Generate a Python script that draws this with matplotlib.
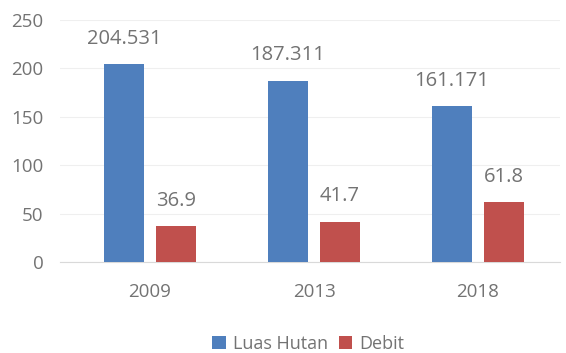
import matplotlib
matplotlib.use("Agg")
import matplotlib.pyplot as plt
import numpy as np

years = ["2009", "2013", "2018"]
luas_hutan = [204.531, 187.311, 161.171]
debit = [36.9, 41.7, 61.8]
luas_labels = ["204.531", "187.311", "161.171"]
debit_labels = ["36.9", "41.7", "61.8"]
yticks = [0, 50, 100, 150, 200, 250]

plt.rcParams['font.family'] = ['Open Sans', 'DejaVu Sans']
gray = "#737373"

fig = plt.figure(figsize=(5.66, 3.53), dpi=100)
ax = fig.add_axes([60/566, 91/353, 500/566, 242/353])

x = np.arange(len(years))
w = 0.245
off = 0.158
b1 = ax.bar(x - off, luas_hutan, w, color="#4F7FBD", label="Luas Hutan", zorder=3)
b2 = ax.bar(x + off, debit, w, color="#C0504D", label="Debit", zorder=3)

for rect, lab in zip(b1, luas_labels):
    ax.annotate(lab, (rect.get_x() + rect.get_width()/2, rect.get_height()),
                xytext=(0, 11), textcoords="offset points", ha="center", va="bottom",
                fontsize=14.5, color=gray)
for rect, lab in zip(b2, debit_labels):
    ax.annotate(lab, (rect.get_x() + rect.get_width()/2, rect.get_height()),
                xytext=(0, 11), textcoords="offset points", ha="center", va="bottom",
                fontsize=14.5, color=gray)

ax.set_xlim(-0.5 - 8/164, 2.5)
ax.set_ylim(0, 250)
ax.set_yticks(yticks)
ax.set_xticks(x)
ax.set_xticklabels(years)
ax.tick_params(axis="both", length=0, labelsize=13.5, labelcolor=gray)
ax.tick_params(axis="y", pad=12)
ax.tick_params(axis="x", pad=15)
ax.yaxis.grid(True, color="#EFEFEF", linewidth=0.8, zorder=0)
for s in ["top", "right", "left"]:
    ax.spines[s].set_visible(False)
ax.spines["bottom"].set_color("#D9D9D9")

leg = fig.legend(handles=[b1, b2], loc="center", bbox_to_anchor=(0.545, 9/353),
                 ncol=2, frameon=False, fontsize=13, handlelength=0.75, handleheight=0.75,
                 handletextpad=0.4, columnspacing=0.6)
for t in leg.get_texts():
    t.set_color(gray)

fig.savefig("out.png", dpi=100)
